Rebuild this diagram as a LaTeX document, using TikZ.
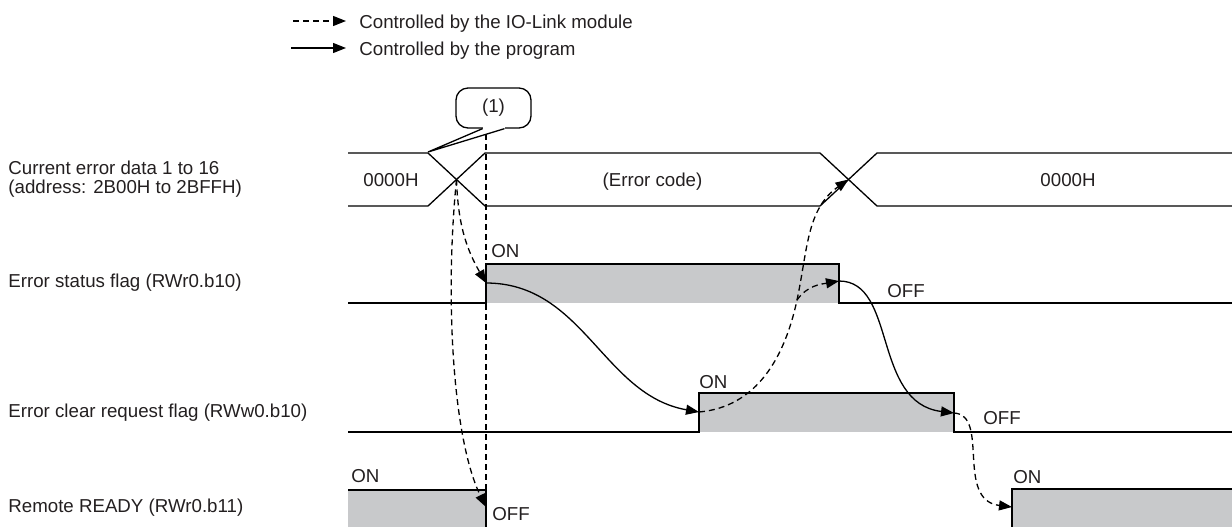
\documentclass[tikz,border=0pt]{standalone}
\usepackage{fontspec}
\setmainfont{Liberation Sans}
\usetikzlibrary{arrows.meta,calc}
\definecolor{pulsegray}{RGB}{200,201,203}
\definecolor{inkgray}{RGB}{35,31,32}
\begin{document}
\begin{tikzpicture}[x=0.5pt, y=-0.5pt, font=\fontsize{9.35}{9.5}\selectfont, text=inkgray,
        >={Triangle[length=6.5pt,width=5pt]},
        line/.style={line width=0.65pt},
        io/.style={->, line width=0.65pt, dash pattern=on 3pt off 2pt},
        prog/.style={->, line width=0.65pt},
        txt/.style={inner sep=0pt, anchor=base west},
        level/.style={inner sep=0pt, anchor=base}]
        \useasboundingbox (0,0) rectangle (1232,526);

        \coordinate (io-a) at (293,21);
        \coordinate (io-b) at (346,21);
        \coordinate (prog-a) at (291,48);
        \coordinate (prog-b) at (346,48);
        \node[txt] (leg-io) at (359,28) {Controlled by the IO-Link module};
        \node[txt] (leg-prog) at (359,55) {Controlled by the program};
        \draw[io] (io-a) -- (io-b);
        \draw[prog] (prog-a) -- (prog-b);

        \fill[pulsegray] (486,264) rectangle (839,303);
        \fill[pulsegray] (699,393) rectangle (954,432);
        \fill[pulsegray] (348,490) rectangle (486,530);
        \fill[pulsegray] (1012,489) rectangle (1240,530);

        \draw[line] (348,153) -- (428,153) -- (485,206) -- (820,206) -- (877,153) -- (1240,153);
        \draw[line] (348,206) -- (428,206) -- (485,153) -- (820,153) -- (877,206) -- (1240,206);
        \draw[line] (348,303) -- (486,303) -- (486,264) -- (839,264) -- (839,303) -- (1240,303);
        \draw[line] (348,432) -- (699,432) -- (699,393) -- (954,393) -- (954,432) -- (1240,432);
        \draw[line] (348,490) -- (486,490) -- (486,530);
        \draw[line] (1012,530) -- (1012,489) -- (1240,489);
        \draw[line, dash pattern=on 3pt off 2pt] (486,134) -- (486,490);

        \node[draw, line width=0.65pt, rounded corners=6pt, minimum width=37.5pt, minimum height=20pt, inner sep=0pt] (mark) at (493.5,108) {(1)};
        \coordinate (mark-tip) at (428,152);
        \fill[white] ($(mark.south)+(-11,-2)$) rectangle ($(mark.south)+(11,2)$);
        \draw[line] ($(mark.south)+(-11,0)$) -- (mark-tip) -- ($(mark.south)+(11,0)$);

        \node[txt, anchor=west, align=left] (curr) at (8,179) {Current error data 1 to 16\\(address: 2B00H to 2BFFH)};
        \node[txt] (status) at (8,287.7) {Error status flag (RWr0.b10)};
        \node[txt] (clear) at (8,417.7) {Error clear request flag (RWw0.b10)};
        \node[txt] (ready) at (8,512.7) {Remote READY (RWr0.b11)};

        \node[level] (v-old) at (391,186.5) {0000H};
        \node[level] (v-err) at (652.5,186.5) {(Error code)};
        \node[level] (v-new) at (1068,186.5) {0000H};

        \node[txt] (status-on) at (491,257) {ON};
        \node[txt] (status-off) at (887,297) {OFF};
        \node[txt] (clear-on) at (699,388) {ON};
        \node[txt] (clear-off) at (983,424) {OFF};
        \node[txt] (ready-on) at (351,482) {ON};
        \node[txt] (ready-off) at (492,520) {OFF};
        \node[txt] (ready-on2) at (1013,483) {ON};

        \coordinate (x1) at (456.5,179.5);
        \coordinate (x2) at (848.5,179.5);
        \coordinate (esf-on) at (486,283);
        \coordinate (esf-off) at (839,281);
        \coordinate (crq-on) at (699,412);
        \coordinate (crq-off) at (954,413);
        \coordinate (rr-off) at (486,507);
        \coordinate (rr-on) at (1012,507);
        \coordinate (branch) at (797,300);

        \draw[io] (x1) to[out=-88, in=120] (esf-on);
        \draw[io] (x1) .. controls +(-12,120) and +(-33,-67) .. (rr-off);
        \draw[prog] (esf-on) to[out=0, in=170] (crq-on);
        \draw[io] (crq-on) to[out=5, in=-102] (branch) to[out=78, in=215] (x2);
        \draw[io] (branch) to[out=55, in=190] (esf-off);
        \draw[prog] (esf-off) .. controls +(58,0) and +(-82,-10) .. (crq-off);
        \draw[io] (crq-off) .. controls +(36,2) and +(-57,-7) .. (rr-on);
    \end{tikzpicture}
\end{document}
